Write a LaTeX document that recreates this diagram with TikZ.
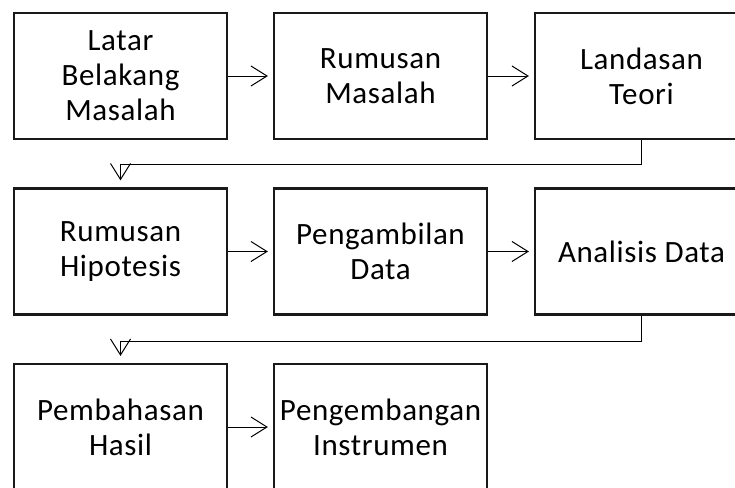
\documentclass[tikz,border=0pt]{standalone}
\usepackage{fontspec}
\setmainfont{Carlito}[LetterSpace=2]
\usetikzlibrary{arrows.meta}
\begin{document}
\begin{tikzpicture}[x=1pt,y=-1pt,
  stepbox/.style={draw=black!90, line width=2.2pt, minimum width=213pt, minimum height=126pt,
    align=center, inner sep=0pt, font=\fontsize{31}{35}\selectfont},
  conn/.style={line width=1pt, -{Straight Barb[length=16pt,width=20pt,line width=1pt]}}]
\useasboundingbox (0,0) rectangle (735,487);
\clip (0,0) rectangle (735,487);
\node[stepbox] (b1) at (120.5,76) {Latar\\Belakang\\Masalah};
\node[stepbox] (b2) at (380.5,76) {Rumusan\\Masalah};
\node[stepbox] (b3) at (641.5,76) {Landasan\\Teori};
\node[stepbox] (b4) at (120.5,251.5) {Rumusan\\Hipotesis};
\node[stepbox] (b5) at (380.5,251.5) {Pengambilan\\Data};
\node[stepbox] (b6) at (641.5,251.5) {Analisis Data};
\node[stepbox] (b7) at (120.5,427) {Pembahasan\\Hasil};
\node[stepbox] (b8) at (380.5,427) {Pengembangan\\Instrumen};
\draw[conn, shorten >=5pt] (b1.east) -- (b2.west);
\draw[conn, shorten >=5pt] (b2.east) -- (b3.west);
\draw[conn, shorten >=5pt] (b4.east) -- (b5.west);
\draw[conn, shorten >=5pt] (b5.east) -- (b6.west);
\draw[conn, shorten >=5pt] (b7.east) -- (b8.west);
\draw[conn, shorten >=7pt] (b3.south) -- ++(0,24) -| (b4.north);
\draw[conn, shorten >=7pt] (b6.south) -- ++(0,26) -| (b7.north);
\end{tikzpicture}
\end{document}
